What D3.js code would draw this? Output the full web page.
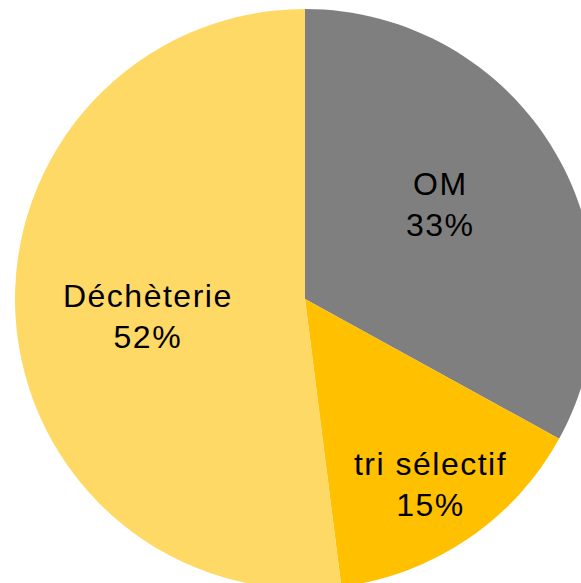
<!DOCTYPE html>
<html>
<head>
<meta charset="utf-8">
<script src="https://cdn.jsdelivr.net/npm/d3@7"></script>
<style>
  body { margin: 0; background: #fff; overflow: hidden; }
  text { font-family: "Liberation Sans", Arial, sans-serif; }
</style>
</head>
<body>
<svg id="chart"></svg>
<script>
// data
const categories = ["OM", "tri sélectif", "Déchèterie"];
const shares = [33, 15, 52];
const colors = ["#7f7f7f", "#ffc000", "#ffd966"];

const width = 581;
const height = 583;
const radius = 290;
const cx = 305, cy = 299;

// label distance from centre (fraction of radius) plus small nudges, Excel best-fit look
const labelFrac = [0.57, 0.77, 0.55];
const labelNudge = [[-7, -11], [0, 0], [2, 7]];

const svg = d3.select("#chart")
  .attr("width", width)
  .attr("height", height);

const g = svg.append("g").attr("transform", `translate(${cx},${cy})`);

const pie = d3.pie().sort(null).value(d => d.value);
const arcs = pie(categories.map((c, i) => ({ name: c, value: shares[i], color: colors[i] })));

const arc = d3.arc().innerRadius(0).outerRadius(radius);

g.selectAll("path.slice")
  .data(arcs)
  .enter()
  .append("path")
  .attr("class", "slice")
  .attr("d", arc)
  .attr("fill", d => d.data.color);

const labels = g.selectAll("g.label")
  .data(arcs)
  .enter()
  .append("g")
  .attr("class", "label")
  .attr("transform", (d, i) => {
    const r = radius * labelFrac[i];
    const a = (d.startAngle + d.endAngle) / 2;
    const x = Math.sin(a) * r + labelNudge[i][0];
    const y = -Math.cos(a) * r + labelNudge[i][1];
    return `translate(${x},${y})`;
  });

labels.append("text")
  .attr("text-anchor", "middle")
  .attr("y", -9)
  .attr("font-size", 32)
  .attr("letter-spacing", 1.5)
  .attr("fill", "#000")
  .text(d => d.data.name);

labels.append("text")
  .attr("text-anchor", "middle")
  .attr("y", 32)
  .attr("font-size", 32)
  .attr("letter-spacing", 1.5)
  .attr("fill", "#000")
  .text(d => d.data.value + "%");
</script>
</body>
</html>
